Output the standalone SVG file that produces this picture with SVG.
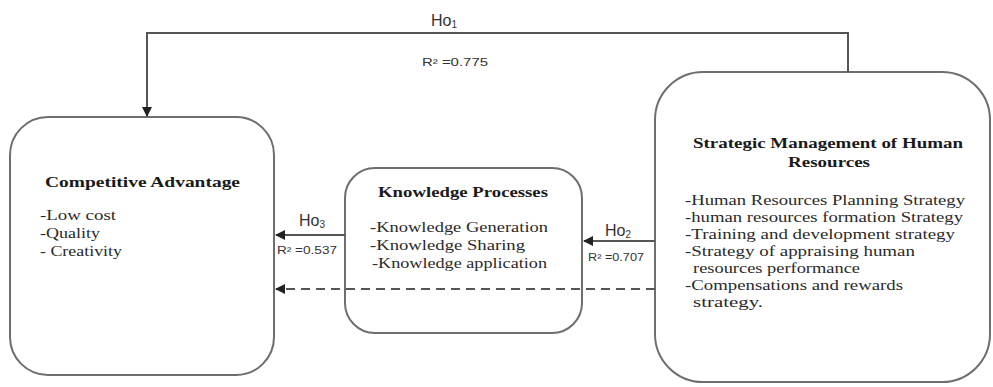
<svg xmlns="http://www.w3.org/2000/svg" width="993" height="387" viewBox="0 0 993 387">
<defs>
<style>
.box{fill:#fff;stroke:#6e6e6e;stroke-width:2}
.ln{fill:none;stroke:#555;stroke-width:2}
.ds{fill:none;stroke:#555;stroke-width:2;stroke-dasharray:9 6}
.t{font-family:"Liberation Serif","Times New Roman",serif;font-size:15px;fill:#2a2a2a}
.b{font-family:"Liberation Serif","Times New Roman",serif;font-size:15px;font-weight:bold;fill:#1a1a1a}
.h{font-family:"Liberation Sans",Arial,sans-serif;font-size:16px;fill:#333}
.r{font-family:"Liberation Sans",Arial,sans-serif;font-size:10px;fill:#333}
</style>
<marker id="ah" viewBox="0 0 10 10" refX="9" refY="5" markerWidth="5" markerHeight="5" orient="auto" markerUnits="strokeWidth">
<path d="M0,0 L10,5 L0,10 z" fill="#222"/>
</marker>
</defs>
<rect width="993" height="387" fill="#fff"/>
<g id="competitive-advantage">
<rect class="box" x="10" y="117" width="264" height="258" rx="38"/>
<text class="b" x="45" y="187" textLength="195" lengthAdjust="spacingAndGlyphs">Competitive Advantage</text>
<text class="t" x="40" y="220" textLength="76" lengthAdjust="spacingAndGlyphs">-Low cost</text>
<text class="t" x="40" y="238" textLength="60" lengthAdjust="spacingAndGlyphs">-Quality</text>
<text class="t" x="40" y="256" textLength="82" lengthAdjust="spacingAndGlyphs">- Creativity</text>
</g>
<g id="knowledge-processes">
<rect class="box" x="345" y="168" width="237" height="165" rx="30"/>
<text class="b" x="378" y="197" textLength="170" lengthAdjust="spacingAndGlyphs">Knowledge Processes</text>
<text class="t" x="370" y="232" textLength="178" lengthAdjust="spacingAndGlyphs">-Knowledge Generation</text>
<text class="t" x="370" y="250" textLength="155" lengthAdjust="spacingAndGlyphs">-Knowledge Sharing</text>
<text class="t" x="372" y="268" textLength="175" lengthAdjust="spacingAndGlyphs">-Knowledge application</text>
</g>
<g id="strategic-management">
<rect class="box" x="655" y="72" width="335" height="310" rx="48"/>
<text class="b" x="693" y="148" textLength="270" lengthAdjust="spacingAndGlyphs">Strategic Management of Human</text>
<text class="b" x="788" y="167" textLength="82" lengthAdjust="spacingAndGlyphs">Resources</text>
<text class="t" x="685" y="205" textLength="280" lengthAdjust="spacingAndGlyphs">-Human Resources Planning Strategy</text>
<text class="t" x="685" y="222" textLength="278" lengthAdjust="spacingAndGlyphs">-human resources formation Strategy</text>
<text class="t" x="685" y="239" textLength="270" lengthAdjust="spacingAndGlyphs">-Training and development strategy</text>
<text class="t" x="685" y="256" textLength="230" lengthAdjust="spacingAndGlyphs">-Strategy of appraising human</text>
<text class="t" x="693" y="273" textLength="167" lengthAdjust="spacingAndGlyphs">resources performance</text>
<text class="t" x="685" y="290" textLength="218" lengthAdjust="spacingAndGlyphs">-Compensations and rewards</text>
<text class="t" x="693" y="307" textLength="70" lengthAdjust="spacingAndGlyphs">strategy.</text>
</g>
<g id="connectors">
<path class="ln" d="M848,72 V33 H147 V116" marker-end="url(#ah)"/>
<path class="ln" d="M345,235 H276" marker-end="url(#ah)"/>
<path class="ln" d="M655,241 H584" marker-end="url(#ah)"/>
<path class="ds" d="M655,289 H276" marker-end="url(#ah)"/>
<text class="h" x="444" y="26" text-anchor="middle">Ho<tspan font-size="10" dy="2">1</tspan></text>
<text class="r" x="422" y="66" textLength="66" lengthAdjust="spacingAndGlyphs">R² =0.775</text>
<text class="h" x="312" y="226" text-anchor="middle">Ho<tspan font-size="10" dy="2">3</tspan></text>
<text class="r" x="277" y="254" textLength="60" lengthAdjust="spacingAndGlyphs">R² =0.537</text>
<text class="h" x="618" y="236" text-anchor="middle">Ho<tspan font-size="10" dy="2">2</tspan></text>
<text class="r" x="588" y="261" textLength="56" lengthAdjust="spacingAndGlyphs">R² =0.707</text>
</g>
</svg>
